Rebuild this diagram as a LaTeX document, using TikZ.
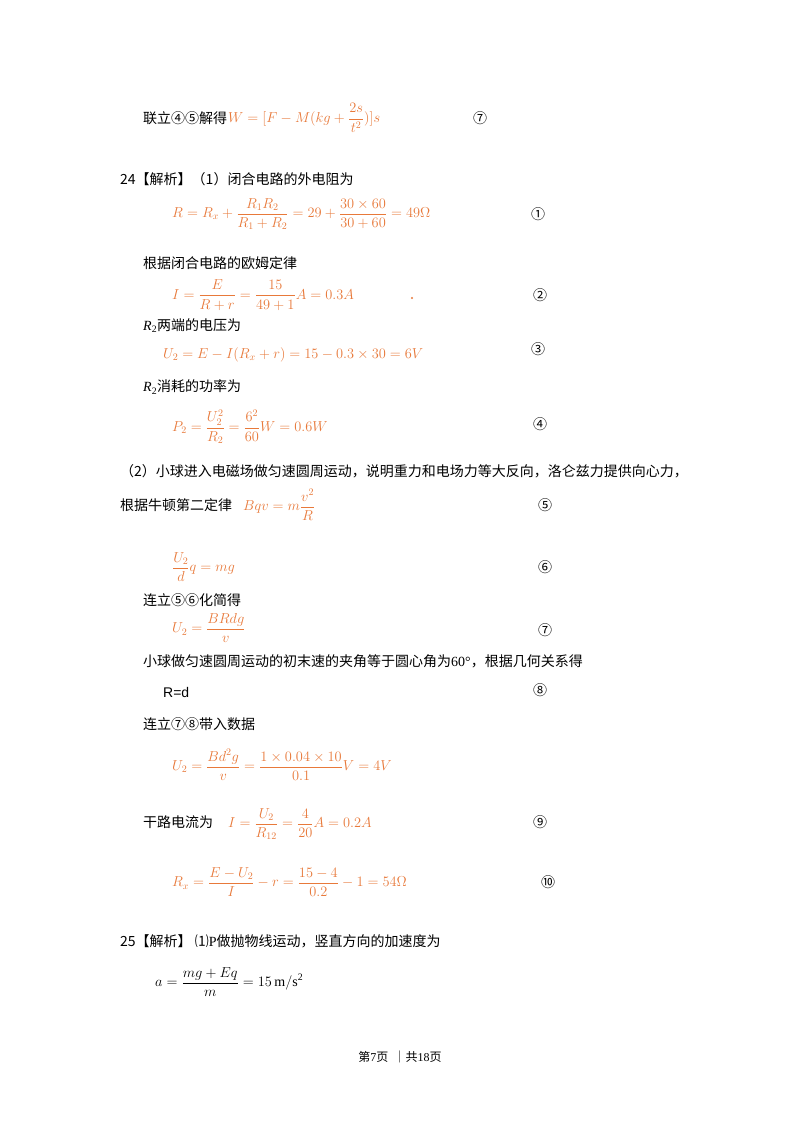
\documentclass[tikz,border=0pt]{standalone}
\usepackage{amsmath}
\usepackage{fontspec}
\setmainfont{Liberation Serif}
\newfontfamily\cjk{Noto Sans CJK SC}
\definecolor{fo}{HTML}{E8793A}
\begin{document}
\begin{tikzpicture}[x=1pt,y=-1pt,
  txt/.style={anchor=west,inner sep=0pt,font=\fontsize{14}{16}\selectfont\cjk},
  eq/.style={anchor=west,inner sep=0pt,text=fo,font=\fontsize{14}{16}\selectfont},
  num/.style={anchor=center,inner sep=0pt,font=\fontsize{14}{16}\selectfont\cjk}]
\useasboundingbox[fill=white] (0,0) rectangle (800,1132);
\node[txt] (t1) at (143,118) {联立④⑤解得};
\node[eq] (e1) at (228,118) {$\displaystyle W=[F-M(kg+\frac{2s}{t^2})]s$};
\node[num] (n1) at (480,118) {⑦};
\node[txt] (t2) at (120,179) {24【解析】（1）闭合电路的外电阻为};
\node[eq] (e2) at (172,214) {$\displaystyle R=R_x+\frac{R_1R_2}{R_1+R_2}=29+\frac{30\times60}{30+60}=49\Omega$};
\node[num] (n2) at (538,214) {①};
\node[txt] (t3) at (143,263) {根据闭合电路的欧姆定律};
\node[eq] (e3) at (172,295) {$\displaystyle I=\frac{E}{R+r}=\frac{15}{49+1}A=0.3A$};
\node[circle,fill=fo,inner sep=0.8pt] (dot) at (412,298) {};
\node[num] (n3) at (540,295) {②};
\node[txt] (t4) at (143,326) {\rmfamily\itshape R\textsubscript{\upshape 2}\cjk 两端的电压为};
\node[eq] (e4) at (163,355) {$U_2=E-I(R_x+r)=15-0.3\times30=6V$};
\node[num] (n4) at (538,349) {③};
\node[txt] (t5) at (143,387) {\rmfamily\itshape R\textsubscript{\upshape 2}\cjk 消耗的功率为};
\node[eq] (e5) at (172,427) {$\displaystyle P_2=\frac{U_2^2}{R_2}=\frac{6^2}{60}W=0.6W$};
\node[num] (n5) at (540,424) {④};
\node[txt] (t6) at (120,471) {（2）小球进入电磁场做匀速圆周运动，说明重力和电场力等大反向，洛仑兹力提供向心力，};
\node[txt] (t7) at (120,505) {根据牛顿第二定律};
\node[eq] (e7) at (243,505) {$\displaystyle Bqv=m\frac{v^2}{R}$};
\node[num] (n7) at (545,505) {⑤};
\node[eq] (e8) at (172,567) {$\displaystyle \frac{U_2}{d}q=mg$};
\node[num] (n8) at (545,567) {⑥};
\node[txt] (t9) at (143,600) {连立⑤⑥化简得};
\node[eq] (e9) at (172,628) {$\displaystyle U_2=\frac{BRdg}{v}$};
\node[num] (n9) at (545,630) {⑦};
\node[txt] (t10) at (143,661) {小球做匀速圆周运动的初末速的夹角等于圆心角为\rmfamily 60°\cjk ，根据几何关系得};
\node[txt] (t11) at (163,692) {\sffamily\fontspec{Liberation Sans}R=d};
\node[num] (n11) at (540,690) {⑧};
\node[txt] (t12) at (143,724) {连立⑦⑧带入数据};
\node[eq] (e12) at (172,765) {$\displaystyle U_2=\frac{Bd^2g}{v}=\frac{1\times0.04\times10}{0.1}V=4V$};
\node[txt] (t13) at (143,822) {干路电流为};
\node[eq] (e13) at (228,824) {$\displaystyle I=\frac{U_2}{R_{12}}=\frac{4}{20}A=0.2A$};
\node[num] (n13) at (540,822) {⑨};
\node[eq] (e14) at (172,882) {$\displaystyle R_x=\frac{E-U_2}{I}-r=\frac{15-4}{0.2}-1=54\Omega$};
\node[num] (n14) at (548,882) {⑩};
\node[txt] (t15) at (120,941) {25【解析】 ⑴\rmfamily P\cjk 做抛物线运动，竖直方向的加速度为};
\node[eq,text=black] (e15) at (155,982) {$\displaystyle a=\frac{mg+Eq}{m}=15\,\mathrm{m/s^2}$};
\node[anchor=center,inner sep=0pt,font=\fontsize{12}{14}\selectfont\cjk] (ft) at (400,1057) {第\rmfamily 7\cjk 页 \ ｜共\rmfamily 18\cjk 页};
\end{tikzpicture}
\end{document}
